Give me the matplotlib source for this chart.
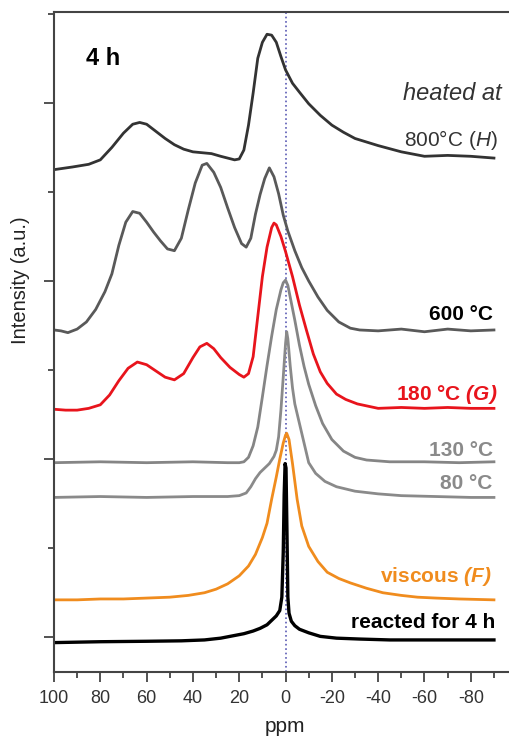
import numpy as np
import matplotlib
matplotlib.use('Agg')
import matplotlib.pyplot as plt
from matplotlib.ticker import MultipleLocator

plt.rcParams['font.family'] = ['Liberation Sans', 'DejaVu Sans']
plt.rcParams['mathtext.fontset'] = 'custom'
plt.rcParams['mathtext.rm'] = 'Liberation Sans'
plt.rcParams['mathtext.it'] = 'Liberation Sans:italic'
plt.rcParams['mathtext.bf'] = 'Liberation Sans:italic:bold'
plt.rcParams['axes.unicode_minus'] = False

# --- spectra (ppm, stacked intensity in a.u.) ---
ppm_800 = [100, 92, 85, 80, 75, 70, 66, 63, 60, 56, 52, 48, 44, 40, 36, 32, 28, 25, 22, 20,
           18, 16, 14, 12, 10, 8, 6, 4, 2, 0, -3, -6, -10, -15, -20, -25, -30, -40, -50, -60,
           -70, -80, -90]
int_800 = [5.25, 5.28, 5.31, 5.36, 5.50, 5.66, 5.76, 5.78, 5.76, 5.68, 5.60, 5.53, 5.48, 5.45,
           5.44, 5.43, 5.40, 5.38, 5.36, 5.37, 5.47, 5.75, 6.11, 6.50, 6.68, 6.77, 6.76, 6.68,
           6.52, 6.37, 6.22, 6.12, 5.99, 5.86, 5.75, 5.67, 5.60, 5.52, 5.45, 5.40, 5.41, 5.40, 5.38]

ppm_600 = [100, 97, 94, 90, 86, 82, 78, 75, 72, 69, 66, 63, 60, 57, 54, 51, 48, 45, 42, 39,
           36, 34, 31, 28, 25, 22, 19, 17, 15, 13, 11, 9, 7, 5, 3, 1, -1, -4, -7, -10, -14,
           -18, -23, -28, -32, -40, -50, -60, -70, -80, -90]
int_600 = [3.45, 3.44, 3.42, 3.46, 3.54, 3.68, 3.88, 4.08, 4.40, 4.66, 4.78, 4.76, 4.66, 4.55,
           4.45, 4.36, 4.34, 4.48, 4.80, 5.10, 5.30, 5.32, 5.22, 5.05, 4.82, 4.60, 4.42, 4.38,
           4.48, 4.75, 4.97, 5.15, 5.27, 5.17, 4.98, 4.74, 4.56, 4.34, 4.15, 4.00, 3.82, 3.67,
           3.54, 3.47, 3.45, 3.44, 3.46, 3.43, 3.46, 3.44, 3.45]

ppm_180 = [100, 95, 90, 85, 80, 76, 72, 68, 64, 60, 56, 52, 48, 44, 40, 37, 34, 31, 28, 24,
           20, 18, 16, 14, 12, 10, 8, 6, 5, 4, 2, 0, -3, -6, -9, -12, -15, -18, -22, -26,
           -31, -40, -50, -60, -70, -80, -90]
int_180 = [2.56, 2.55, 2.55, 2.57, 2.61, 2.72, 2.88, 3.02, 3.09, 3.06, 2.99, 2.92, 2.89, 2.96,
           3.14, 3.26, 3.30, 3.24, 3.14, 3.03, 2.95, 2.92, 2.96, 3.15, 3.60, 4.05, 4.38, 4.60,
           4.65, 4.63, 4.50, 4.33, 4.05, 3.73, 3.45, 3.18, 2.98, 2.85, 2.73, 2.67, 2.62, 2.57,
           2.58, 2.57, 2.58, 2.57, 2.57]

ppm_130 = [100, 80, 60, 40, 25, 20, 18, 16, 14, 12, 10, 8, 6, 4, 2, 1, 0, -1, -2, -4, -6,
           -8, -10, -13, -16, -20, -25, -30, -35, -45, -60, -75, -90]
int_130 = [1.96, 1.97, 1.96, 1.97, 1.96, 1.96, 1.97, 2.02, 2.15, 2.36, 2.70, 3.05, 3.38, 3.68,
           3.90, 3.98, 4.01, 3.95, 3.82, 3.56, 3.28, 3.04, 2.84, 2.60, 2.40, 2.22, 2.09, 2.02,
           1.99, 1.97, 1.97, 1.96, 1.97]

ppm_80 = [100, 80, 60, 40, 25, 20, 17, 15, 13, 11, 9, 7, 5, 4, 3, 2, 1, 0, -0.5, -1, -2,
          -3, -4, -6, -8, -10, -13, -17, -22, -30, -40, -50, -65, -80, -90]
int_80 = [1.57, 1.58, 1.57, 1.58, 1.58, 1.59, 1.62, 1.69, 1.78, 1.85, 1.90, 1.95, 2.03, 2.10,
          2.25, 2.55, 2.92, 3.30, 3.43, 3.35, 3.05, 2.80, 2.62, 2.40, 2.18, 1.96, 1.84, 1.75,
          1.69, 1.64, 1.61, 1.59, 1.58, 1.57, 1.57]

ppm_visc = [100, 90, 80, 70, 60, 50, 42, 35, 30, 25, 20, 16, 13, 10, 8, 6, 4, 2.5, 1, 0,
            -0.5, -1.5, -3, -5, -7, -10, -14, -18, -23, -28, -35, -42, -50, -57, -65, -75, -90]
int_visc = [0.42, 0.42, 0.43, 0.43, 0.44, 0.45, 0.47, 0.50, 0.54, 0.60, 0.69, 0.80, 0.93, 1.12,
            1.28, 1.55, 1.80, 2.00, 2.18, 2.27, 2.29, 2.22, 1.95, 1.55, 1.25, 1.02, 0.85, 0.73,
            0.66, 0.61, 0.55, 0.50, 0.47, 0.45, 0.44, 0.43, 0.42]

ppm_4h = [100, 80, 60, 45, 35, 28, 22, 18, 14, 11, 8, 6, 4, 2.5, 1.6, 1.0, 0.6, 0.2, -0.2,
          -0.6, -1.0, -1.5, -2.5, -4, -6, -10, -15, -22, -32, -45, -60, -75, -90]
int_4h = [-0.06, -0.05, -0.045, -0.04, -0.03, -0.01, 0.02, 0.04, 0.07, 0.10, 0.14, 0.19, 0.24,
          0.30, 0.45, 0.95, 1.60, 1.95, 1.90, 1.20, 0.45, 0.27, 0.18, 0.13, 0.09, 0.05, 0.01,
          -0.01, -0.02, -0.03, -0.03, -0.03, -0.03]

fig = plt.figure(figsize=(5.09, 7.39), dpi=100)
ax = fig.add_axes([54/509, 1 - 672/739, 455/509, 660/739])

ax.axvline(0, color='#5a5ab4', linestyle=':', linewidth=1.2, zorder=1)

ax.plot(ppm_800, int_800, color='#333333', lw=2.0)
ax.plot(ppm_600, int_600, color='#595959', lw=2.0)
ax.plot(ppm_180, int_180, color='#e8141c', lw=2.0)
ax.plot(ppm_130, int_130, color='#858585', lw=2.0)
ax.plot(ppm_80, int_80, color='#8a8a8a', lw=2.0)
ax.plot(ppm_visc, int_visc, color='#f08c1e', lw=2.0)
ax.plot(ppm_4h, int_4h, color='black', lw=2.4)

# labels on the right
fs = 15
ax.text(-93.5, 6.03, 'heated at', style='italic', fontsize=17, color='#333333', ha='right', va='baseline')
ax.text(-91.5, 5.51, '800°C ($H$)', fontsize=fs, color='#333333', ha='right', va='baseline')
ax.text(-89.5, 3.56, '600 °C', fontsize=fs, fontweight='bold', color='black', ha='right', va='baseline')
ax.text(-91.5, 2.66, '180 °C $\\mathbf{(G)}$', fontsize=fs, fontweight='bold', color='#e8141c', ha='right', va='baseline')
ax.text(-89.5, 2.03, '130 °C', fontsize=fs, fontweight='bold', color='#8a8a8a', ha='right', va='baseline')
ax.text(-89.5, 1.66, '80 °C', fontsize=fs, fontweight='bold', color='#8a8a8a', ha='right', va='baseline')
ax.text(-89.0, 0.62, 'viscous $\\mathbf{(F)}$', fontsize=fs, fontweight='bold', color='#f08c1e', ha='right', va='baseline')
ax.text(-90.5, 0.10, 'reacted for 4 h', fontsize=fs, fontweight='bold', color='black', ha='right', va='baseline')

ax.text(86.2, 6.42, '4 h', fontsize=17, fontweight='bold', color='black', ha='left', va='baseline')

ax.set_xlim(100, -96.5)
ax.set_ylim(-0.39, 7.02)
ax.xaxis.set_major_locator(MultipleLocator(20))
ax.xaxis.set_minor_locator(MultipleLocator(10))
ax.yaxis.set_major_locator(MultipleLocator(2))
ax.yaxis.set_minor_locator(MultipleLocator(1))
ax.set_yticklabels([])
ax.tick_params(axis='both', which='major', length=7, width=1.3, color='#444444',
               labelsize=13, labelcolor='#333333', direction='out')
ax.tick_params(axis='both', which='minor', length=4, width=1.3, color='#444444', direction='out')
ax.tick_params(axis='x', pad=6)

for s in ['left', 'top', 'bottom']:
    ax.spines[s].set_color('#444444')
    ax.spines[s].set_linewidth(1.5)
ax.spines['right'].set_visible(False)

ax.set_xlabel('ppm', fontsize=15, color='#222222')
ax.xaxis.set_label_coords((285 - 54) / 455, -0.068)
ax.set_ylabel('Intensity (a.u.)', fontsize=14.5, color='#222222')
ax.yaxis.set_label_coords(-0.052, (672 - 280) / 660)

fig.savefig('out.png', dpi=100)
